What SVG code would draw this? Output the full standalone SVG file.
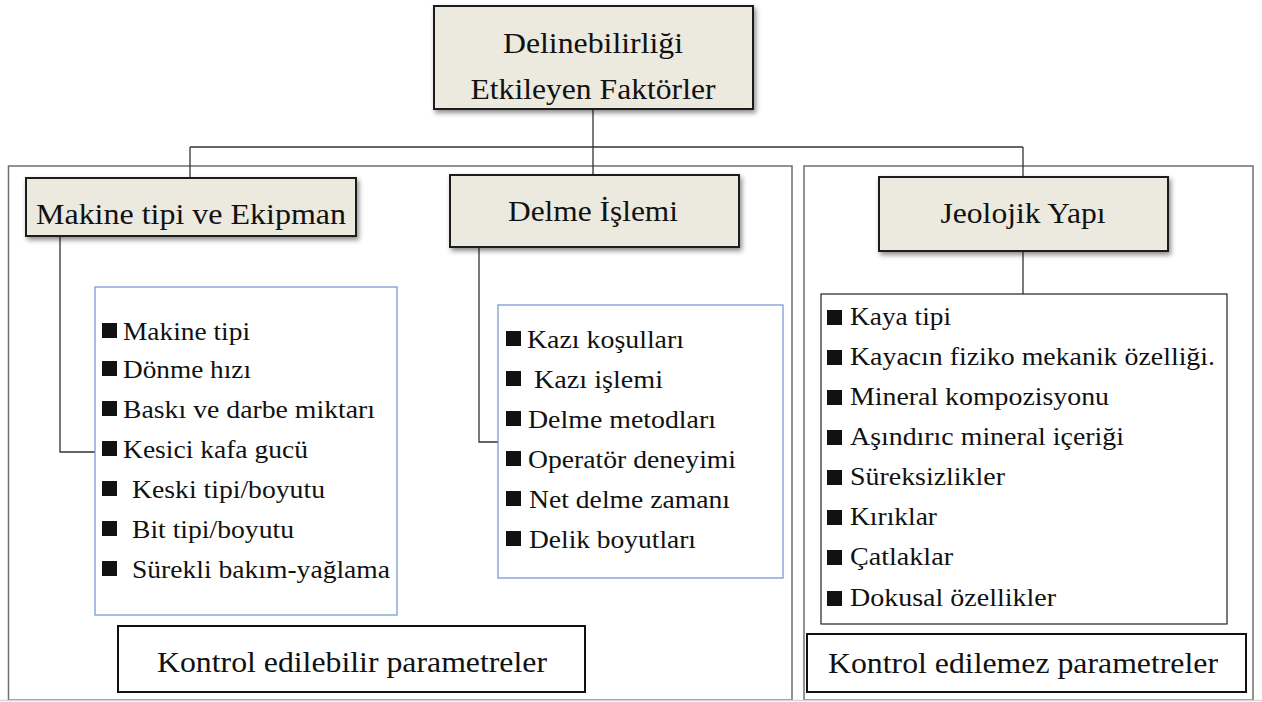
<svg xmlns="http://www.w3.org/2000/svg" xmlns:xlink="http://www.w3.org/1999/xlink" width="1262" height="702" viewBox="0 0 1262 702">
  <style>
    .frame { fill: none; stroke: #6f6f6f; stroke-width: 1.5; }
    .head { fill: #ece9df; stroke: #1e1e1e; stroke-width: 2; }
    .list-blue { fill: #ffffff; stroke: #6a93cf; stroke-width: 1.2; }
    .list-black { fill: #ffffff; stroke: #222222; stroke-width: 1.2; }
    .label { fill: #ffffff; stroke: #111111; stroke-width: 2; }
    .wire { fill: none; stroke: #333333; stroke-width: 1.3; }
    text { font-family: "Liberation Serif", Tinos, "Times New Roman", Times, "Noto Serif", "DejaVu Serif", FreeSerif, serif; fill: #111111; }
    .ht { font-size: 30px; text-anchor: middle; }
    .it { font-size: 26px; }
  </style>
  <defs>
    <filter id="shadow" x="-10%" y="-20%" width="125%" height="150%">
      <feDropShadow dx="2" dy="3" stdDeviation="2.5" flood-color="#000000" flood-opacity="0.45"/>
    </filter>
    <rect id="bullet" x="0" y="0" width="15" height="15" fill="#111111"/>
  </defs>

  <rect width="1262" height="702" fill="#ffffff"/>

  <!-- outer frames for the two parameter groups -->
  <g id="frames">
    <rect class="frame" x="8.5" y="166" width="783.5" height="534"/>
    <rect class="frame" x="804" y="166" width="449" height="534"/>
    <line x1="0" y1="700.5" x2="1262" y2="700.5" stroke="#d8d8d8" stroke-width="1.5"/>
  </g>

  <!-- connectors -->
  <g id="connectors">
    <polyline class="wire" points="593,109 593,147"/>
    <polyline class="wire" points="190,147 1023,147"/>
    <polyline class="wire" points="190,147 190,178"/>
    <polyline class="wire" points="593,147 593,175"/>
    <polyline class="wire" points="1023,147 1023,177"/>
    <polyline class="wire" points="60,236 60,452 95,452"/>
    <polyline class="wire" points="479,247 479,442 498,442"/>
    <polyline class="wire" points="1023,251 1023,294"/>
  </g>

  <!-- root node -->
  <g id="root">
    <rect class="head" x="434" y="6" width="319" height="103" filter="url(#shadow)"/>
    <text class="ht" x="593" y="53" textLength="180" lengthAdjust="spacingAndGlyphs">Delinebilirliği</text>
    <text class="ht" x="593" y="99" textLength="245" lengthAdjust="spacingAndGlyphs">Etkileyen Faktörler</text>
  </g>

  <!-- machine and equipment -->
  <g id="makine">
    <rect class="head" x="26" y="178" width="330" height="58" filter="url(#shadow)"/>
    <text class="ht" x="191" y="224" textLength="310" lengthAdjust="spacingAndGlyphs">Makine tipi ve Ekipman</text>
  </g>
  <g id="makine-list">
    <rect class="list-blue" x="95" y="287" width="302" height="328"/>
    <use xlink:href="#bullet" x="102" y="323"/>
    <text class="it" x="123" y="340" textLength="127" lengthAdjust="spacingAndGlyphs">Makine tipi</text>
    <use xlink:href="#bullet" x="102" y="361"/>
    <text class="it" x="123" y="378" textLength="128" lengthAdjust="spacingAndGlyphs">Dönme hızı</text>
    <use xlink:href="#bullet" x="102" y="401"/>
    <text class="it" x="123" y="418" textLength="252" lengthAdjust="spacingAndGlyphs">Baskı ve darbe miktarı</text>
    <use xlink:href="#bullet" x="102" y="441"/>
    <text class="it" x="123" y="458" textLength="185" lengthAdjust="spacingAndGlyphs">Kesici kafa gucü</text>
    <use xlink:href="#bullet" x="102" y="481"/>
    <text class="it" x="132" y="498" textLength="193" lengthAdjust="spacingAndGlyphs">Keski tipi/boyutu</text>
    <use xlink:href="#bullet" x="102" y="521"/>
    <text class="it" x="132" y="538" textLength="162" lengthAdjust="spacingAndGlyphs">Bit tipi/boyutu</text>
    <use xlink:href="#bullet" x="102" y="561"/>
    <text class="it" x="132" y="578" textLength="258" lengthAdjust="spacingAndGlyphs">Sürekli bakım-yağlama</text>
  </g>

  <!-- drilling process -->
  <g id="delme">
    <rect class="head" x="450" y="175" width="289" height="72" filter="url(#shadow)"/>
    <text class="ht" x="593" y="221" textLength="170" lengthAdjust="spacingAndGlyphs">Delme İşlemi</text>
  </g>
  <g id="delme-list">
    <rect class="list-blue" x="498" y="305" width="285" height="273"/>
    <use xlink:href="#bullet" x="506" y="331"/>
    <text class="it" x="527" y="348" textLength="157" lengthAdjust="spacingAndGlyphs">Kazı koşulları</text>
    <use xlink:href="#bullet" x="506" y="371"/>
    <text class="it" x="534" y="388" textLength="129" lengthAdjust="spacingAndGlyphs">Kazı işlemi</text>
    <use xlink:href="#bullet" x="506" y="411"/>
    <text class="it" x="528" y="428" textLength="188" lengthAdjust="spacingAndGlyphs">Delme metodları</text>
    <use xlink:href="#bullet" x="506" y="451"/>
    <text class="it" x="528" y="468" textLength="208" lengthAdjust="spacingAndGlyphs">Operatör deneyimi</text>
    <use xlink:href="#bullet" x="506" y="491"/>
    <text class="it" x="529" y="508" textLength="201" lengthAdjust="spacingAndGlyphs">Net delme zamanı</text>
    <use xlink:href="#bullet" x="506" y="531"/>
    <text class="it" x="529" y="548" textLength="167" lengthAdjust="spacingAndGlyphs">Delik boyutları</text>
  </g>

  <!-- geological structure -->
  <g id="jeolojik">
    <rect class="head" x="879" y="177" width="289" height="74" filter="url(#shadow)"/>
    <text class="ht" x="1023" y="223" textLength="165" lengthAdjust="spacingAndGlyphs">Jeolojik Yapı</text>
  </g>
  <g id="jeolojik-list">
    <rect class="list-black" x="821" y="294" width="406" height="330"/>
    <use xlink:href="#bullet" x="827" y="310"/>
    <text class="it" x="850" y="325" textLength="101" lengthAdjust="spacingAndGlyphs">Kaya tipi</text>
    <use xlink:href="#bullet" x="827" y="350"/>
    <text class="it" x="850" y="365" textLength="365" lengthAdjust="spacingAndGlyphs">Kayacın fiziko mekanik özelliği.</text>
    <use xlink:href="#bullet" x="827" y="390"/>
    <text class="it" x="850" y="405" textLength="259" lengthAdjust="spacingAndGlyphs">Mineral kompozisyonu</text>
    <use xlink:href="#bullet" x="827" y="430"/>
    <text class="it" x="850" y="445" textLength="274" lengthAdjust="spacingAndGlyphs">Aşındırıc mineral içeriği</text>
    <use xlink:href="#bullet" x="827" y="470"/>
    <text class="it" x="850" y="485" textLength="155" lengthAdjust="spacingAndGlyphs">Süreksizlikler</text>
    <use xlink:href="#bullet" x="827" y="510"/>
    <text class="it" x="850" y="525" textLength="87" lengthAdjust="spacingAndGlyphs">Kırıklar</text>
    <use xlink:href="#bullet" x="827" y="550"/>
    <text class="it" x="850" y="565" textLength="103" lengthAdjust="spacingAndGlyphs">Çatlaklar</text>
    <use xlink:href="#bullet" x="827" y="591"/>
    <text class="it" x="850" y="606" textLength="206" lengthAdjust="spacingAndGlyphs">Dokusal özellikler</text>
  </g>

  <!-- group captions -->
  <g id="kontrol-edilebilir">
    <rect class="label" x="118" y="626" width="467" height="66"/>
    <text class="ht" x="352" y="672" textLength="390" lengthAdjust="spacingAndGlyphs">Kontrol edilebilir parametreler</text>
  </g>
  <g id="kontrol-edilemez">
    <rect class="label" x="807" y="634" width="439" height="58"/>
    <text class="ht" x="1023" y="673" textLength="390" lengthAdjust="spacingAndGlyphs">Kontrol edilemez parametreler</text>
  </g>
</svg>
